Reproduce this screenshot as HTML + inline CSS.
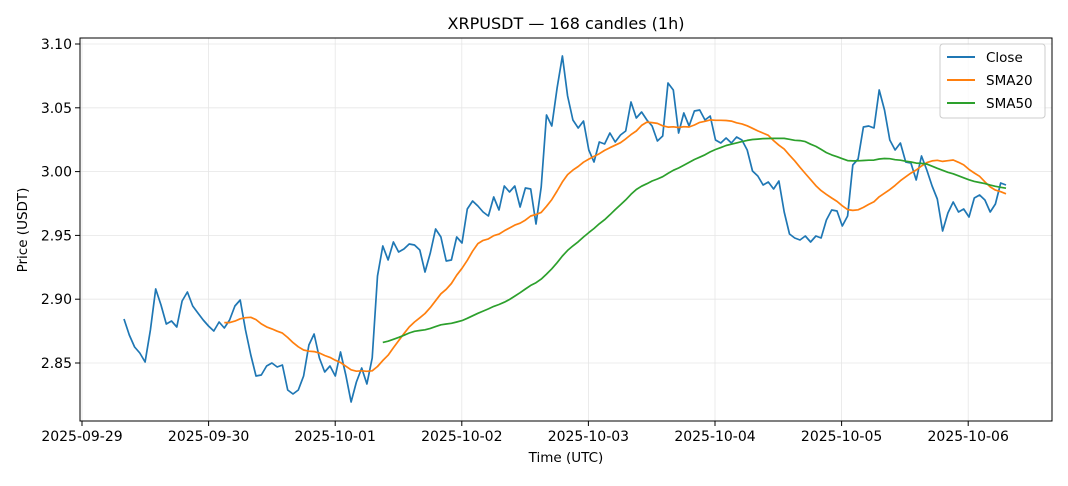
<!DOCTYPE html>
<html><head><meta charset="utf-8"><style>
body{margin:0;background:#fff;}
svg{font-family:"DejaVu Sans","Liberation Sans",sans-serif;}
</style></head><body>
<svg id="s" width="1068" height="481" xmlns="http://www.w3.org/2000/svg">
<rect width="1068" height="481" fill="#fff"/>
<text x="566" y="29" font-size="16" text-anchor="middle" fill="#000">XRPUSDT — 168 candles (1h)</text>
<g id="grid"></g>
<g id="lines"></g>
<rect x="80" y="38" width="972" height="383" fill="none" stroke="#000" stroke-width="1"/>
<g id="ticks" font-size="14" fill="#000"></g>
<text x="566" y="462" font-size="13.5" text-anchor="middle">Time (UTC)</text>
<text transform="translate(27,230) rotate(-90)" font-size="13.5" text-anchor="middle">Price (USDT)</text>
<g>
<rect x="940" y="44" width="105" height="74" fill="#fff" fill-opacity="0.8" stroke="#ccc" rx="3"/>
<line x1="947" y1="57" x2="975" y2="57" stroke="#1f77b4" stroke-width="2"/>
<text x="986" y="62" font-size="13.5">Close</text>
<line x1="947" y1="80" x2="975" y2="80" stroke="#ff7f0e" stroke-width="2"/>
<text x="986" y="85" font-size="13.5">SMA20</text>
<line x1="947" y1="103" x2="975" y2="103" stroke="#2ca02c" stroke-width="2"/>
<text x="986" y="108" font-size="13.5">SMA50</text>
</g>
</svg>
<script>
const NS="http://www.w3.org/2000/svg";
function el(p,t,a,txt){const e=document.createElementNS(NS,t);for(const k in a)e.setAttribute(k,a[k]);if(txt)e.textContent=txt;document.getElementById(p).appendChild(e);}
const yv=v=>44+(3.10-v)/0.05*63.8;
const vy=y=>3.10-(y-44)/63.8*0.05;
const py=[319,335,347,353,362,330,289,305,324,321,327,301,292,306,313,320,326,331,322,328,320,306,300,330,355,376,375,366,363,367,365,390,394,390,376,345,334,358,372,366,376,352,375,402,382,368,384,358,276,246,260,242,252,249,244,245,250,272,253,229,237,261,260,237,243,209,201,206,212,216,197,210,186,192,186,207,188,189,224,187,115,126,88,56,96,120,128,121,150,162,142,144,133,142,135,131,102,118,112,120,126,141,136,83,90,133,113,126,111,110,120,116,140,143,138,143,137,140,150,171,176,185,182,189,181,212,234,238,240,236,242,236,238,220,210,211,226,216,165,159,127,126,128,90,110,140,150,143,162,163,180,156,170,186,199,231,213,202,212,209,217,198,195,200,212,204,183,185];
const v=py.map(vy);const n=v.length;const dx=(1006-124)/(n-1);
const X=i=>124+i*dx;
for(let k=0;k<6;k++){const val=2.85+k*0.05,y=yv(val);
el('grid','line',{x1:80,x2:1052,y1:y,y2:y,stroke:'#e6e6e6','stroke-width':0.8});
el('ticks','line',{x1:75,x2:80,y1:y,y2:y,stroke:'#000'});
el('ticks','text',{x:72,y:y+5,'text-anchor':'end'},val.toFixed(2));}
const d=['2025-09-29','2025-09-30','2025-10-01','2025-10-02','2025-10-03','2025-10-04','2025-10-05','2025-10-06'];
d.forEach((s,i)=>{const x=82+i*126.6;
el('grid','line',{x1:x,x2:x,y1:38,y2:421,stroke:'#e6e6e6','stroke-width':0.8});
el('ticks','line',{x1:x,x2:x,y1:421,y2:426,stroke:'#000'});
el('ticks','text',{x:x,y:441,'text-anchor':'middle'},s);});
function line(vals,start,col){let p=[];for(let i=start;i<n;i++)p.push(X(i).toFixed(1)+','+yv(vals[i]).toFixed(1));
el('lines','polyline',{points:p.join(' '),fill:'none',stroke:col,'stroke-width':1.7,'stroke-linejoin':'round'});}
function sma(w){const r=[];for(let i=0;i<n;i++){if(i<w-1){r.push(null);continue;}let s=0;for(let j=i-w+1;j<=i;j++)s+=v[j];r.push(s/w);}return r;}
line(v,0,'#1f77b4');line(sma(20),19,'#ff7f0e');line(sma(50),49,'#2ca02c');
</script>
</body></html>
